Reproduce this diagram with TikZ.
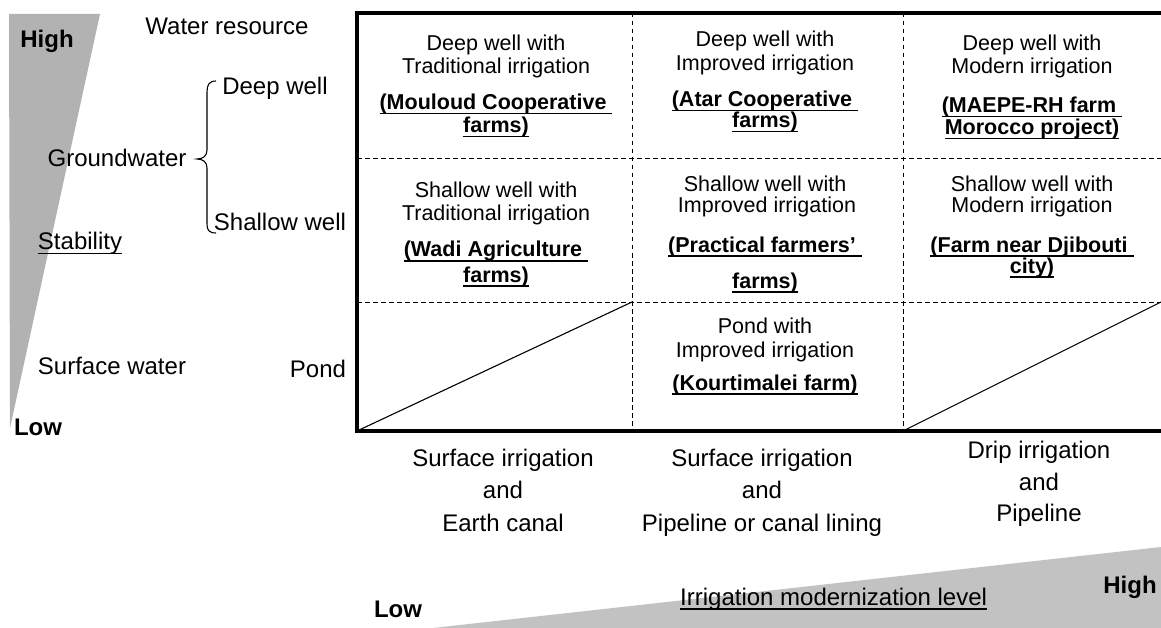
\documentclass[tikz,border=0pt]{standalone}
\usepackage{fontspec}
\setmainfont{Liberation Sans}
\newcommand{\ulx}[2][1.8pt]{\setbox0\hbox{#2}\rlap{\rule[-4.5pt]{\wd0}{#1}}\box0}
\begin{document}
\begin{tikzpicture}[x=1pt,y=-1pt,
  cell/.style={inner sep=0pt,anchor=base,font=\fontsize{21.5}{23}\selectfont},
  farm/.style={inner sep=0pt,anchor=base,font=\fontsize{21.5}{23}\selectfont\bfseries},
  lab/.style={inner sep=0pt,anchor=base,font=\fontsize{24}{26}\selectfont},
  blab/.style={inner sep=0pt,anchor=base,font=\fontsize{24}{26}\selectfont\bfseries},
  frame/.style={line width=3.6pt},
  grid/.style={line width=1pt,dash pattern=on 4.5pt off 3.5pt},
  diag/.style={line width=1.1pt},
  wedge/.style={fill=black!30},
  wedge2/.style={fill=black!24}]
\useasboundingbox (0,0) rectangle (1161,628);
% wedges
\fill[wedge] (9,14) -- (100,14) -- (10,428) -- cycle;
\fill[wedge2] (433,628) -- (1161,547) -- (1161,628) -- cycle;
% coordinates of frame
\coordinate (tl) at (357,13);
\coordinate (tr) at (1161,13);
\coordinate (bl) at (357,431);
\coordinate (br) at (1161,431);
\coordinate (v1t) at (632,13);
\coordinate (v1b) at (632,431);
\coordinate (v2t) at (903,13);
\coordinate (v2b) at (903,431);
\coordinate (h1l) at (357,159);
\coordinate (h1r) at (1161,159);
\coordinate (h2l) at (357,302);
\coordinate (h2m) at (632,302);
\coordinate (h2r) at (1161,302);
% grid
\draw[grid] (v1t) -- (v1b);
\draw[grid] (v2t) -- (v2b);
\draw[grid] (h1l) -- (h1r);
\draw[grid] (h2l) -- (h2r);
\draw[diag] (bl) -- (h2m);
\draw[diag] (v2b) -- (h2r);
\draw[frame] (tr) -- (tl) -- (bl) -- (br);
% brace
\coordinate (bt) at (216,81);
\coordinate (bb) at (216,233);
\draw[line width=1.1pt] (bt) .. controls (209,81) and (207,85) .. (207,92)
  -- (207,150) .. controls (207,156) and (203,159) .. (197,159)
  .. controls (203,159) and (207,162) .. (207,168)
  -- (207,224) .. controls (207,230) and (209,233) .. (bb);
% left labels
\node[blab] (high1) at (47,48) {High};
\node[lab] (wres) at (227,35) {Water resource};
\node[lab] (deep) at (275,95) {Deep well};
\node[lab] (ground) at (117,167) {Groundwater};
\node[lab] (shallow) at (280,231) {Shallow well};
\node[lab] (stab) at (80,250) {\ulx[1.3pt]{Stability}};
\node[lab] (surf) at (112,374) {Surface water};
\node[lab] (pond) at (318,377) {Pond};
\node[blab] (low1) at (38,435) {Low};
% column 1
\node[cell] (c11a) at (496,51) {Deep well with};
\node[cell] (c11b) at (496,74) {Traditional irrigation};
\node[farm] (c11c) at (496,110) {\ulx{(Mouloud Cooperative }};
\node[farm] (c11d) at (496,133) {\ulx{farms)}};
\node[cell] (c21a) at (496,198) {Shallow well with};
\node[cell] (c21b) at (496,221) {Traditional irrigation};
\node[farm] (c21c) at (496,257) {\ulx{(Wadi Agriculture }};
\node[farm] (c21d) at (496,282) {\ulx{farms)}};
% column 2
\node[cell] (c12a) at (765,47) {Deep well with};
\node[cell] (c12b) at (765,71) {Improved irrigation};
\node[farm] (c12c) at (765,107) {\ulx{(Atar Cooperative }};
\node[farm] (c12d) at (765,128) {\ulx{farms)}};
\node[cell] (c22a) at (765,192) {Shallow well with};
\node[cell] (c22b) at (767,213) {Improved irrigation};
\node[farm] (c22c) at (765,252) {\ulx{(Practical farmers’ }};
\node[farm] (c22d) at (765,288) {\ulx{farms)}};
\node[cell] (c32a) at (765,333) {Pond with};
\node[cell] (c32b) at (765,357) {Improved irrigation};
\node[farm] (c32c) at (765,390) {\ulx{(Kourtimalei farm)}};
% column 3
\node[cell] (c13a) at (1032,51) {Deep well with};
\node[cell] (c13b) at (1032,74) {Modern irrigation};
\node[farm] (c13c) at (1032,113) {\ulx{(MAEPE-RH farm }};
\node[farm] (c13d) at (1032,135) {\ulx{Morocco project)}};
\node[cell] (c23a) at (1032,192) {Shallow well with};
\node[cell] (c23b) at (1032,213) {Modern irrigation};
\node[farm] (c23c) at (1032,252) {\ulx{(Farm near Djibouti }};
\node[farm] (c23d) at (1032,273) {\ulx{city)}};
% bottom labels
\node[lab] (b1a) at (503,466) {Surface irrigation};
\node[lab] (b1b) at (503,498) {and};
\node[lab] (b1c) at (503,531) {Earth canal};
\node[lab] (b2a) at (762,466) {Surface irrigation};
\node[lab] (b2b) at (762,498) {and};
\node[lab] (b2c) at (762,531) {Pipeline or canal lining};
\node[lab] (b3a) at (1039,458) {Drip irrigation};
\node[lab] (b3b) at (1039,490) {and};
\node[lab] (b3c) at (1039,521) {Pipeline};
% bottom axis
\node[blab] (low2) at (398,617) {Low};
\node[blab] (high2) at (1130,593) {High};
\node[lab,anchor=base west] (irr) at (680,605) {\ulx[1.3pt]{Irrigation modernization level}};
\end{tikzpicture}
\end{document}
